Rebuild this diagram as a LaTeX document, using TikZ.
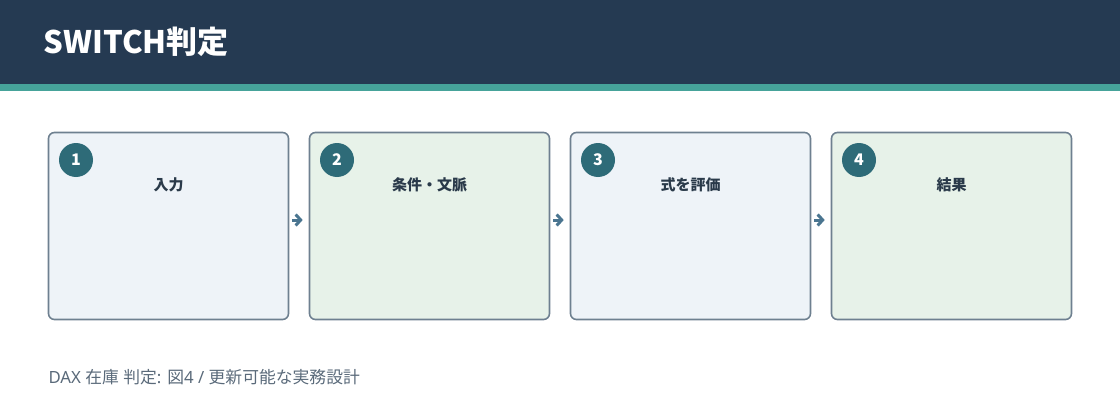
\documentclass[tikz,border=0pt]{standalone}
\usepackage{fontspec}
\setmainfont{Noto Sans CJK JP}
\newfontfamily\latinfont{Noto Sans}
\usetikzlibrary{arrows.meta}
\definecolor{headbg}{HTML}{253A52}
\definecolor{headline}{HTML}{46A39A}
\definecolor{boxblue}{HTML}{EEF3F8}
\definecolor{boxgreen}{HTML}{E7F2E9}
\definecolor{boxedge}{HTML}{6E8090}
\definecolor{badge}{HTML}{2E6B78}
\definecolor{titletext}{HTML}{2A3A4A}
\definecolor{arrowcol}{HTML}{4A7590}
\definecolor{foottext}{HTML}{5A6A7A}
\tikzset{
  stepbox/.style={draw=boxedge, line width=1.6pt, rounded corners=6pt, minimum width=240pt, minimum height=187pt, inner sep=0pt},
  badgenum/.style={circle, fill=badge, minimum size=34pt, inner sep=0pt, text=white, font=\bfseries\fontsize{16}{16}\selectfont},
  steptitle/.style={text=titletext, font=\bfseries\fontsize{15}{15}\selectfont},
  arr/.style={draw=arrowcol, line width=3pt, -{Straight Barb[length=5pt, width=11pt, line width=3pt]}}
}
\begin{document}
\begin{tikzpicture}[x=1pt, y=-1pt]
\useasboundingbox (0, 0) rectangle (1120, 420);
\fill [headbg] (0, 0) rectangle (1120, 84);
\fill [headline] (0, 84) rectangle (1120, 91);
\node [anchor=west, text=white, font=\bfseries\fontsize{31}{31}\selectfont] (title) at (40, 42) {SWITCH判定};
% steps
\foreach \i/\x/\c/\t in {1/168.5/boxblue/入力, 2/429.5/boxgreen/条件・文脈, 3/690.5/boxblue/式を評価, 4/951.5/boxgreen/結果}{
  \node [stepbox, fill=\c] (b\i) at (\x, 226) {};
  \node [badgenum] (n\i) at (\x - 92.5, 160) {\i};
  \node [steptitle] (t\i) at (\x, 185) {\t};
}
\foreach \i/\j in {1/2, 2/3, 3/4}{\draw [arr] ([xshift=3pt, yshift=6pt]b\i.east) -- ([xshift=-6pt, yshift=6pt]b\j.west);}
\node [anchor=west, text=foottext, font=\fontsize{16.8}{17}\selectfont] (foot) at (45, 377) {{\latinfont DAX }在庫{\latinfont\ }判定{\latinfont: }図{\latinfont 4 / }更新可能な実務設計};
\end{tikzpicture}
\end{document}
